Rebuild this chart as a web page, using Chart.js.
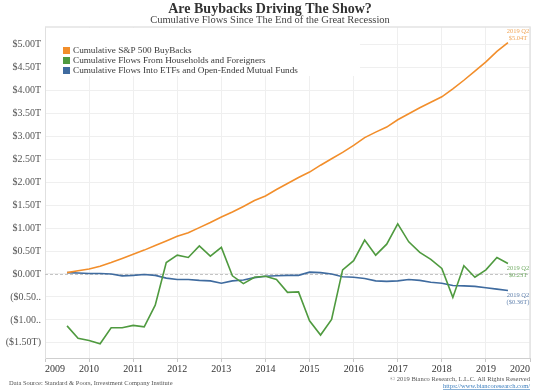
<!DOCTYPE html>
<html><head><meta charset="utf-8">
<script src="https://cdn.jsdelivr.net/npm/chart.js@4/dist/chart.umd.min.js"></script>
<style>html,body{margin:0;padding:0;background:#fff;overflow:hidden}#wrap{width:534px;height:391px;position:relative}</style>
</head><body><div id="wrap"><canvas id="c" width="534" height="391"></canvas></div>
<script>
const quarters = ['2009 Q2','2009 Q3','2009 Q4',
 '2010 Q1','2010 Q2','2010 Q3','2010 Q4','2011 Q1','2011 Q2','2011 Q3','2011 Q4',
 '2012 Q1','2012 Q2','2012 Q3','2012 Q4','2013 Q1','2013 Q2','2013 Q3','2013 Q4',
 '2014 Q1','2014 Q2','2014 Q3','2014 Q4','2015 Q1','2015 Q2','2015 Q3','2015 Q4',
 '2016 Q1','2016 Q2','2016 Q3','2016 Q4','2017 Q1','2017 Q2','2017 Q3','2017 Q4',
 '2018 Q1','2018 Q2','2018 Q3','2018 Q4','2019 Q1','2019 Q2'];
const buybacks = [0.03,0.07,0.11,0.17,0.25,0.34,0.43,0.52,0.62,0.72,
 0.82,0.90,1.01,1.12,1.24,1.35,1.47,1.60,1.70,1.84,
 1.97,2.10,2.22,2.37,2.51,2.65,2.80,2.97,3.09,3.20,
 3.36,3.49,3.62,3.74,3.86,4.03,4.22,4.42,4.62,4.85,5.04];
const households = [-1.13,-1.40,-1.45,-1.52,-1.17,-1.17,-1.12,-1.15,-0.68,0.25,
 0.41,0.36,0.61,0.39,0.58,-0.04,-0.21,-0.07,-0.05,-0.12,
 -0.40,-0.39,-1.02,-1.33,-0.99,0.09,0.29,0.74,0.41,0.65,
 1.09,0.70,0.47,0.32,0.12,-0.51,0.18,-0.07,0.09,0.36,0.23];
const etfFlows = [0.03,0.02,0.01,0.01,0.00,-0.04,-0.03,-0.01,-0.03,-0.09,
 -0.12,-0.12,-0.14,-0.15,-0.20,-0.15,-0.13,-0.08,-0.05,-0.04,
 -0.03,-0.03,0.04,0.03,0.00,-0.06,-0.07,-0.10,-0.15,-0.16,
 -0.15,-0.12,-0.14,-0.18,-0.20,-0.25,-0.26,-0.27,-0.30,-0.33,-0.36];
const seriesNames = ['Cumulative S&P 500 BuyBacks','Cumulative Flows From Households and Foreigners','Cumulative Flows Into ETFs and Open-Ended Mutual Funds'];
const yTickValues = [-1.5,-1,-0.5,0,0.5,1,1.5,2,2.5,3,3.5,4,4.5,5];
const yTickLabels = ['($1.50T)','($1.00..','($0.50..','$0.00T','$0.50T','$1.00T','$1.50T','$2.00T','$2.50T','$3.00T','$3.50T','$4.00T','$4.50T','$5.00T'];
const xYears = [2009,2010,2011,2012,2013,2014,2015,2016,2017,2018,2019,2020];

const colors = ['#f28e2b','#4f9a3f','#3f6b9f'];
const labelColors = ['#f0a659','#74ad66','#6585b0'];
const SERIF = '"Liberation Serif", "DejaVu Serif", serif';

function qToX(q){ const p=q.split(' Q'); return parseInt(p[0]) + parseInt(p[1])*0.25; }
function pts(arr){ return arr.map((v,i)=>({x:qToX(quarters[i]), y:v})); }
function fmtT(v){ const s='$'+Math.abs(v).toFixed(2)+'T'; return v<0?'('+s+')':s; }

const deco = {
  id:'deco',
  beforeDatasetsDraw(chart){
    const {ctx, chartArea:a, scales:{x,y}} = chart;
    ctx.save();
    ctx.strokeStyle='#c4c4c4'; ctx.lineWidth=1; ctx.setLineDash([3,2]);
    const y0=Math.round(y.getPixelForValue(0))+0.5;
    ctx.beginPath(); ctx.moveTo(a.left,y0); ctx.lineTo(a.right,y0); ctx.stroke();
    ctx.setLineDash([]);
    ctx.strokeStyle='#e4e4e4'; ctx.lineWidth=1.5;
    ctx.beginPath(); ctx.moveTo(a.left,a.top); ctx.lineTo(a.right,a.top); ctx.lineTo(a.right,a.bottom); ctx.stroke();
    ctx.fillStyle='#fff'; ctx.fillRect(a.left+1,a.top+1,314,48);
    ctx.font='9.2px '+SERIF; ctx.textBaseline='middle'; ctx.textAlign='left';
    seriesNames.forEach((n,i)=>{
      const yy=50.5+i*10;
      ctx.fillStyle=colors[i]; ctx.fillRect(63,yy-3.5,7,7);
      ctx.fillStyle='#3a3a3a'; ctx.fillText(n,73,yy+0.5);
    });
    ctx.restore();
  },
  afterDraw(chart){
    const {ctx, scales:{x,y}} = chart;
    ctx.save();
    ctx.textAlign='center'; ctx.textBaseline='alphabetic';
    ctx.fillStyle='#333'; ctx.font='bold 14px '+SERIF;
    ctx.fillText('Are Buybacks Driving The Show?',270,13);
    ctx.fillStyle='#444'; ctx.font='10.5px '+SERIF;
    ctx.fillText('Cumulative Flows Since The End of the Great Recession',270,23);
    const lastQ = quarters[quarters.length-1];
    const lx = x.getPixelForValue(qToX(lastQ))+10;
    const sets=[buybacks,households,etfFlows];
    const offs=[[-11,-4.5],[4.5,11.5],[5,11.5]];
    ctx.font='6.5px '+SERIF; ctx.textBaseline='middle';
    sets.forEach((s,i)=>{
      const v=s[s.length-1]; const py=y.getPixelForValue(v);
      ctx.fillStyle=labelColors[i];
      ctx.fillText(lastQ,lx,py+offs[i][0]);
      ctx.fillText(fmtT(v),lx,py+offs[i][1]);
    });
    ctx.font='6.5px '+SERIF; ctx.textBaseline='middle';
    ctx.textAlign='left'; ctx.fillStyle='#555';
    ctx.fillText('Data Source: Standard & Poors, Investment Company Institute',9,383);
    ctx.textAlign='right';
    ctx.fillText('\u00A9 2019 Bianco Research, L.L.C. All Rights Reserved',530,379.5);
    ctx.fillStyle='#3b7dbd';
    const url='https://www.biancoresearch.com/';
    ctx.fillText(url,530,386);
    const w=ctx.measureText(url).width;
    ctx.strokeStyle='#3b7dbd'; ctx.lineWidth=0.6;
    ctx.beginPath(); ctx.moveTo(530-w,389.5); ctx.lineTo(530,389.5); ctx.stroke();
    ctx.restore();
  }
};

new Chart(document.getElementById('c'), {
  type:'line',
  data:{ datasets:[
    {label:seriesNames[0], data:pts(buybacks), borderColor:colors[0], borderWidth:1.6, pointRadius:0, tension:0},
    {label:seriesNames[1], data:pts(households), borderColor:colors[1], borderWidth:1.6, pointRadius:0, tension:0},
    {label:seriesNames[2], data:pts(etfFlows), borderColor:colors[2], borderWidth:1.6, pointRadius:0, tension:0}
  ]},
  options:{
    responsive:false, animation:false, devicePixelRatio:1,
    layout:{padding:{top:27,right:4,left:0,bottom:0}},
    plugins:{legend:{display:false}, tooltip:{enabled:false}},
    scales:{
      x:{ type:'linear', min:2009, max:2020,
        afterBuildTicks:s=>{ s.ticks = xYears.map(v=>({value:v})); },
        afterFit:s=>{ s.height=33; },
        grid:{color:'#efefef', tickColor:'#c8c8c8', tickLength:4},
        border:{color:'#cfcfcf'},
        ticks:{ align:'inner', padding:1, maxRotation:0, autoSkip:false, color:'#333',
          font:{family:SERIF,size:10}, callback:v=>String(v) } },
      y:{ type:'linear', min:-1.83, max:5.38,
        afterBuildTicks:s=>{ s.ticks = yTickValues.map(v=>({value:v})); },
        afterFit:s=>{ s.width=45; },
        grid:{color:'#efefef', drawTicks:false},
        border:{color:'#e0e0e0'},
        ticks:{ padding:4, color:'#555', font:{family:SERIF,size:10},
          callback:(v)=>{ const i=yTickValues.indexOf(v); return i>=0?yTickLabels[i]:''; } } }
    }
  },
  plugins:[deco]
});
</script></body></html>
